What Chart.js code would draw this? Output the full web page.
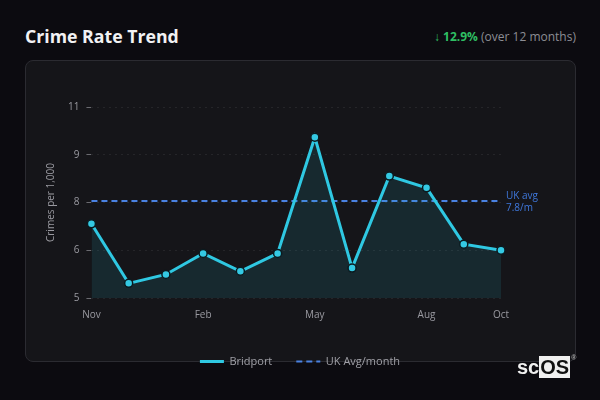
<!DOCTYPE html>
<html>
<head>
<meta charset="utf-8">
<script src="https://cdn.jsdelivr.net/npm/chart.js@4.4.1/dist/chart.umd.min.js"></script>
<style>
  html,body{margin:0;padding:0;background:#0c0b10;width:600px;height:400px;overflow:hidden;font-family:"Open Sans","Noto Sans",sans-serif;}
  .title{position:absolute;left:25px;top:24px;color:#f2f2f4;font-size:17.7px;font-weight:700;}
  .change{position:absolute;right:24px;top:28px;font-size:12px;color:#8d8d94;}
  .change b{color:#2fbf63;font-weight:700;}
  .card{position:absolute;left:25px;top:60px;width:549px;height:300px;background:#151519;border:1px solid #2b2b31;border-radius:8px;}
  #wrap{position:absolute;left:0;top:0;width:600px;height:400px;}
  .mark{position:absolute;left:517px;top:356px;font-family:"Liberation Sans",Arial,sans-serif;font-weight:700;font-size:20px;color:#f0f0f0;}
  .mark span{background:#f0f0f0;color:#111;padding:0 1px;}
  .mark sup{font-size:7px;color:#aaa;vertical-align:top;position:relative;top:-2px;margin-left:1px;}
</style>
</head>
<body>
<div class="title">Crime Rate Trend</div>
<div class="change"><b>↓ 12.9%</b> (over 12 months)</div>
<div class="card"></div>
<div id="wrap"><canvas id="myChart" width="600" height="400"></canvas></div>
<div class="mark">sc<span>OS</span><sup>®</sup></div>
<script>
const months = ['Nov','Dec','Jan','Feb','Mar','Apr','May','Jun','Jul','Aug','Sep','Oct'];
const bridport = [7.33, 5.46, 5.74, 6.40, 5.84, 6.40, 10.05, 5.94, 8.83, 8.46, 6.69, 6.50];
const ukAvg = 8.05;
const ukAvgLabel = ['UK avg', '7.8/m'];
const yTicks = {min: 5, max: 11, step: 1.5};

// small plugin for the "UK avg" text at the right end of the dashed line
const avgLabel = {
  id: 'avgLabel',
  afterDatasetsDraw(chart) {
    const ctx = chart.ctx, area = chart.chartArea;
    const y = chart.scales.y.getPixelForValue(ukAvg);
    ctx.save();
    ctx.fillStyle = '#3f78dc';
    ctx.font = '10px "Open Sans", sans-serif';
    ctx.textAlign = 'left';
    ctx.textBaseline = 'middle';
    ctx.fillText(ukAvgLabel[0], area.right + 5, y - 5);
    ctx.fillText(ukAvgLabel[1], area.right + 5, y + 7);
    ctx.restore();
  }
};

var ctx = document.getElementById('myChart').getContext('2d');
var chart = new Chart(ctx, {
  type: 'line',
  data: {
    labels: months,
    datasets: [{
      label: 'Bridport',
      data: bridport,
      borderColor: '#2fc8e2',
      backgroundColor: 'rgba(40,180,200,0.13)',
      borderWidth: 3,
      fill: 'start',
      tension: 0,
      pointRadius: 4,
      pointBackgroundColor: '#34c9e3',
      pointBorderColor: '#0b1a1f',
      pointBorderWidth: 1.5
    }, {
      label: 'UK Avg/month',
      data: months.map(() => ukAvg),
      borderColor: '#4a82e2',
      borderWidth: 2,
      borderDash: [6, 4],
      pointRadius: 0,
      fill: false
    }]
  },
  options: {
    responsive: false,
    animation: false,
    layout: {padding: {left: 41, right: 41, top: 107, bottom: 23}},
    plugins: {
      legend: {
        position: 'bottom',
        labels: {
          color: '#a0a0a7',
          font: {size: 11, family: '"Open Sans", sans-serif'},
          usePointStyle: true,
          pointStyle: 'line',
          pointStyleWidth: 24,
          padding: 24,
          generateLabels: c => Chart.defaults.plugins.legend.labels.generateLabels(c).map(l => {
            const ds = c.data.datasets[l.datasetIndex];
            l.strokeStyle = ds.borderColor;
            l.lineWidth = ds.borderWidth;
            l.lineDash = ds.borderDash || [];
            return l;
          })
        }
      },
      tooltip: {enabled: false}
    },
    scales: {
      x: {
        grid: {display: false},
        border: {display: false},
        afterFit: s => { s.height += 8; },
        ticks: {
          color: '#9a9aa1',
          font: {size: 10, family: '"Open Sans", sans-serif'},
          autoSkip: false,
          maxRotation: 0,
          padding: 3,
          callback: (v, i) => (i % 3 === 0 || i === months.length - 1) ? months[i] : ''
        }
      },
      y: {
        min: yTicks.min,
        max: yTicks.max,
        border: {display: false, dash: [2, 4]},
        grid: {color: 'rgba(255,255,255,0.07)', tickColor: '#6a6a70', tickLength: 5, tickBorderDash: []},
        ticks: {
          stepSize: yTicks.step,
          color: '#9a9aa1',
          font: {size: 10, family: '"Open Sans", sans-serif'},
          padding: 7,
          callback: v => Math.floor(v)
        },
        title: {display: true, text: 'Crimes per 1,000', color: '#9a9aa1', font: {size: 10, family: '"Open Sans", sans-serif'}}
      },
      // empty right axis: keeps room for the "UK avg" note so the legend stays centred
      y2: {
        position: 'right',
        min: yTicks.min,
        max: yTicks.max,
        grid: {display: false},
        border: {display: false},
        ticks: {display: false},
        afterFit: s => { s.width = 58; }
      }
    }
  },
  plugins: [avgLabel]
});
</script>
</body>
</html>
